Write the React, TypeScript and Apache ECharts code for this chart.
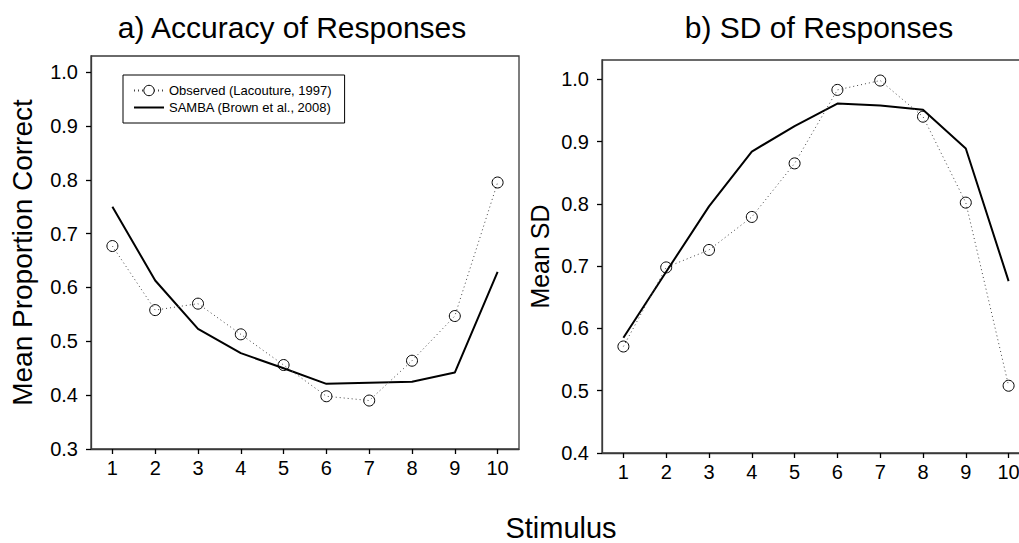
import React, { useEffect, useRef } from "react";
import * as echarts from "echarts";

const categories = ["1", "2", "3", "4", "5", "6", "7", "8", "9", "10"];
const accObserved = [0.677, 0.558, 0.57, 0.513, 0.456, 0.398, 0.39, 0.464, 0.547, 0.795];
const accSamba = [0.75, 0.613, 0.523, 0.478, 0.45, 0.421, 0.423, 0.425, 0.442, 0.629];
const sdObserved = [0.571, 0.698, 0.726, 0.779, 0.865, 0.983, 0.998, 0.94, 0.802, 0.508];
const sdSamba = [0.585, 0.691, 0.796, 0.884, 0.925, 0.961, 0.958, 0.951, 0.889, 0.676];
const accTicks = [0.3, 0.4, 0.5, 0.6, 0.7, 0.8, 0.9, 1.0];
const sdTicks = [0.4, 0.5, 0.6, 0.7, 0.8, 0.9, 1.0];
const nameObserved = "Observed (Lacouture, 1997)";
const nameSamba = "SAMBA (Brown et al., 2008)";

const FONT = "'Liberation Sans', Arial, Helvetica, sans-serif";

export default function App() {
  const ref = useRef<HTMLDivElement>(null);
  useEffect(() => {
    if (!ref.current) return;
    const chart = echarts.init(ref.current, undefined, { renderer: "svg" });
    const axisColor = "#3a3a3a";
    const xAxisBase = (gridIndex: number) => ({
      type: "category",
      gridIndex,
      data: categories,
      boundaryGap: true,
      axisLine: { show: true, lineStyle: { color: axisColor, width: 1.3 } },
      axisTick: { show: true, alignWithLabel: true, length: 5, lineStyle: { color: "#000", width: 1.3 } },
      axisLabel: { color: "#000", fontSize: 20, fontFamily: FONT, margin: 9 },
      splitLine: { show: false },
    });
    const yAxisBase = (gridIndex: number, min: number, max: number, ticks: number[], name: string, nameGap: number, nameSize: number) => ({
      type: "value",
      gridIndex,
      min,
      max,
      name,
      nameLocation: "middle",
      nameRotate: 90,
      nameGap,
      nameTextStyle: { color: "#000", fontSize: nameSize, fontFamily: FONT },
      axisLine: { show: true, lineStyle: { color: axisColor, width: 1.3 } },
      axisTick: { show: true, length: 5, customValues: ticks, lineStyle: { color: "#000", width: 1.3 } },
      axisLabel: {
        color: "#000",
        fontSize: 20,
        fontFamily: FONT,
        margin: 13,
        customValues: ticks,
        formatter: (v: number) => v.toFixed(1),
      },
      splitLine: { show: false },
    });
    const obsSeries = (idx: number, data: number[]) => ({
      type: "line",
      name: nameObserved,
      xAxisIndex: idx,
      yAxisIndex: idx,
      data,
      symbol: "circle",
      symbolSize: 11,
      lineStyle: { color: "#444", width: 1, type: [1, 3] },
      itemStyle: { color: "rgba(255,255,255,0)", borderColor: "#000", borderWidth: 1 },
      z: 3,
    });
    const sambaSeries = (idx: number, data: number[]) => ({
      type: "line",
      name: nameSamba,
      xAxisIndex: idx,
      yAxisIndex: idx,
      data,
      symbol: "none",
      lineStyle: { color: "#000", width: 2 },
      itemStyle: { color: "#000" },
      z: 2,
    });
    chart.setOption({
      animation: false,
      backgroundColor: "#fff",
      grid: [
        { left: 91, top: 56, width: 428, height: 393, show: true, borderColor: axisColor, borderWidth: 1.3, backgroundColor: "transparent", outerBoundsMode: "none", containLabel: false },
        { left: 602, top: 60, width: 428, height: 393, show: true, borderColor: axisColor, borderWidth: 1.3, backgroundColor: "transparent", outerBoundsMode: "none", containLabel: false },
      ],
      xAxis: [xAxisBase(0), xAxisBase(1)],
      yAxis: [
        yAxisBase(0, 0.3, 1.03, accTicks, "Mean Proportion Correct", 55, 28),
        yAxisBase(1, 0.4, 1.031, sdTicks, "Mean SD", 50, 25),
      ],
      legend: {
        left: 123,
        top: 75,
        orient: "vertical",
        data: [
          { name: nameObserved, itemStyle: { color: "#fff", borderColor: "#000", borderWidth: 1 } },
          { name: nameSamba, icon: "path://M0,0 L30,0 L30,2 L0,2 Z", itemStyle: { color: "#000", borderWidth: 0 } },
        ],
        borderColor: "#000",
        borderWidth: 1,
        padding: [9, 13, 9, 10],
        itemGap: 4,
        itemWidth: 30,
        itemHeight: 13,
        textStyle: { color: "#000", fontSize: 13, fontFamily: FONT },
        selectedMode: false,
      },
      graphic: [
        {
          type: "text",
          x: 292,
          y: 27,
          style: { text: "a) Accuracy of Responses", fontSize: 30, fontFamily: FONT, fill: "#000", align: "center", verticalAlign: "middle" },
        },
        {
          type: "text",
          x: 819,
          y: 27,
          style: { text: "b) SD of Responses", fontSize: 30, fontFamily: FONT, fill: "#000", align: "center", verticalAlign: "middle" },
        },
        {
          type: "text",
          x: 561,
          y: 528,
          style: { text: "Stimulus", fontSize: 29, fontFamily: FONT, fill: "#000", align: "center", verticalAlign: "middle" },
        },
      ],
      series: [
        sambaSeries(0, accSamba),
        obsSeries(0, accObserved),
        sambaSeries(1, sdSamba),
        obsSeries(1, sdObserved),
      ],
    });
    return () => chart.dispose();
  }, []);
  return <div ref={ref} style={{ position: "fixed", left: 0, top: 0, width: 1019, height: 543 }} />;
}
